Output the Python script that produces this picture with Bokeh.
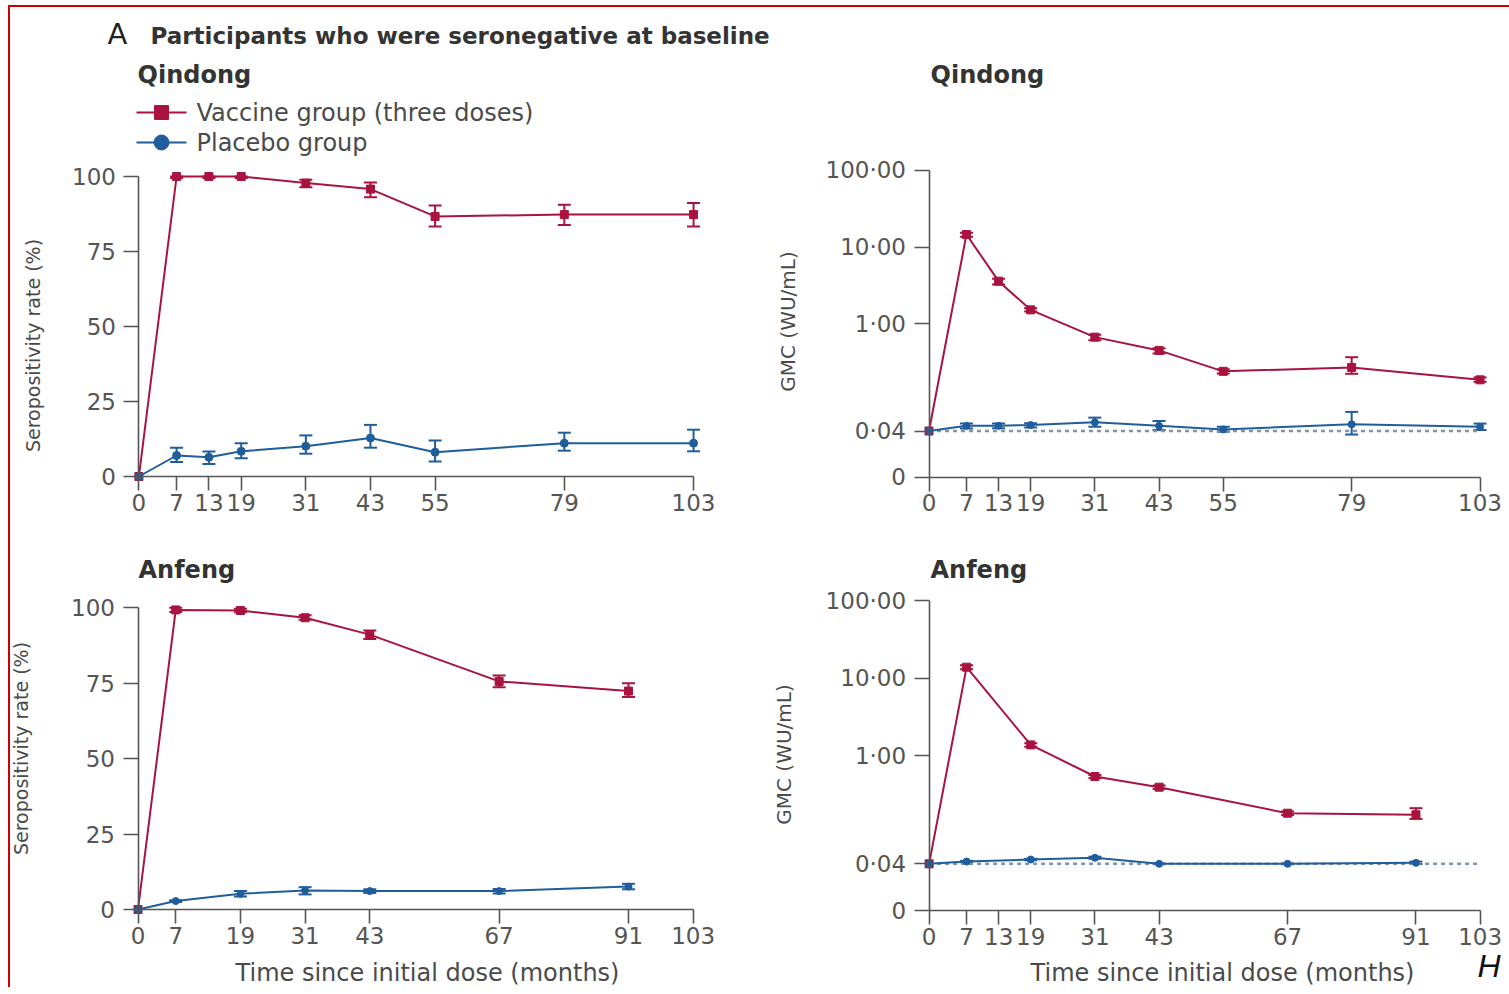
import math
from bokeh.plotting import figure
from bokeh.models import (Range1d, FixedTicker, Label, Whisker, TeeHead, ColumnDataSource,
                          CustomJSTickFormatter)
from bokeh.layouts import gridplot
from bokeh.embed import file_html
from bokeh.resources import INLINE

# ---------------- data ----------------
qd_months = [0, 7, 13, 19, 31, 43, 55, 79, 103]
an_months = [0, 7, 19, 31, 43, 67, 91]

# Qindong seropositivity rate (%)
qd_vac_sero = [0, 100, 100, 100, 97.8, 95.8, 86.7, 87.3, 87.3]
qd_vac_sero_lo = [0, 99.5, 99.5, 99.5, 96.4, 93.1, 83.3, 83.8, 83.3]
qd_vac_sero_hi = [0, 100, 100, 100, 98.9, 98.0, 90.3, 90.6, 91.2]
qd_pla_sero = [0, 7.0, 6.4, 8.4, 10.1, 12.8, 8.1, 11.1, 11.1]
qd_pla_sero_lo = [0, 4.8, 4.2, 6.1, 7.6, 9.6, 5.0, 8.6, 8.4]
qd_pla_sero_hi = [0, 9.6, 8.3, 11.1, 13.7, 17.2, 12.0, 14.6, 15.6]

# Qindong GMC (WU/mL)
qd_vac_gmc = [0.04, 14.6, 3.6, 1.52, 0.67, 0.45, 0.24, 0.27, 0.186]
qd_vac_gmc_lo = [0.04, 13.6, 3.25, 1.45, 0.61, 0.41, 0.225, 0.223, 0.175]
qd_vac_gmc_hi = [0.04, 15.4, 3.86, 1.60, 0.72, 0.48, 0.255, 0.367, 0.200]
qd_pla_gmc = [0.04, 0.0468, 0.0468, 0.0479, 0.0519, 0.0468, 0.0420, 0.0490, 0.0455]
qd_pla_gmc_lo = [0.04, 0.0432, 0.0435, 0.0445, 0.0455, 0.0412, 0.0392, 0.0360, 0.0412]
qd_pla_gmc_hi = [0.04, 0.0500, 0.0500, 0.0505, 0.0598, 0.0540, 0.0455, 0.0710, 0.0500]

# Anfeng seropositivity rate (%)
an_vac_sero = [0, 99.3, 99.1, 96.7, 91.1, 75.6, 72.4]
an_vac_sero_lo = [0, 98.6, 98.5, 96.0, 89.7, 73.7, 70.4]
an_vac_sero_hi = [0, 100, 99.7, 97.5, 92.5, 77.6, 75.0]
an_pla_sero = [0, 2.8, 5.2, 6.3, 6.1, 6.1, 7.6]
an_pla_sero_lo = [0, 2.5, 4.3, 5.0, 5.5, 5.3, 6.7]
an_pla_sero_hi = [0, 3.1, 6.1, 7.4, 6.7, 6.8, 8.5]

# Anfeng GMC (WU/mL)
an_vac_gmc = [0.04, 13.8, 1.37, 0.536, 0.39, 0.18, 0.172]
an_vac_gmc_lo = [0.04, 13.0, 1.30, 0.51, 0.37, 0.17, 0.152]
an_vac_gmc_hi = [0.04, 14.6, 1.44, 0.56, 0.41, 0.19, 0.209]
an_pla_gmc = [0.04, 0.0428, 0.0455, 0.0479, 0.0400, 0.0400, 0.0412]
an_pla_gmc_lo = [0.04, 0.0420, 0.0445, 0.0465, 0.0395, 0.0395, 0.0398]
an_pla_gmc_hi = [0.04, 0.0436, 0.0465, 0.0495, 0.0405, 0.0405, 0.0428]

lloq = 0.04

qd_xticks = [0, 7, 13, 19, 31, 43, 55, 79, 103]
an_sero_xticks = [0, 7, 19, 31, 43, 67, 91, 103]
an_gmc_xticks = [0, 7, 13, 19, 31, 43, 67, 91, 103]
sero_yticks = [0, 25, 50, 75, 100]
gmc_yticks = [0.01, 0.04, 1, 10, 100]
gmc_ytick_labels = ["0", "0·04", "1·00", "10·00", "100·00"]

series_labels = ["Vaccine group (three doses)", "Placebo group"]
panel_letter = "A"
panel_heading = "Participants who were seronegative at baseline"
sites = ["Qindong", "Anfeng"]
sero_ylabel = "Seropositivity rate (%)"
gmc_ylabel = "GMC (WU/mL)"
xlabel = "Time since initial dose (months)"
edge_text = "H"

# ---------------- style ----------------
FONT = "DejaVu Sans"
RED = "#a8133f"
BLUE = "#1f5d9c"
AX = "#555555"
TXT = "#4a4a4a"
HEAD = "#333333"
DOT = "#7f93ad"
TICK_SIZE = "23px"

ORIGIN_X, ORIGIN_Y = 10, 7   # page position of the grid's content (after margin + border)


def make_panel(W, H, ox, oy, x0px, xscale, ykind, yref, yscale, xticks, yticks, xmax):
    """Figure whose frame covers the whole canvas; screen px -> data via the given scales."""
    x_start = (ox - x0px) / xscale
    x_end = (ox + W - x0px) / xscale
    top = (yref - oy) / yscale
    bottom = (yref - (oy + H)) / yscale
    if ykind == "lin":
        yr = Range1d(bottom, top)
        yt = "linear"
    else:
        yr = Range1d(10 ** bottom, 10 ** top)
        yt = "log"
    p = figure(frame_width=W, frame_height=H, min_border=0, title=None,
               x_range=Range1d(x_start, x_end), y_range=yr, y_axis_type=yt,
               output_backend="svg", toolbar_location=None, tools="")
    p.outline_line_color = None
    p.grid.visible = False
    p.background_fill_color = "white"
    p.border_fill_color = "white"

    ylo = yticks[0]
    p.xaxis.fixed_location = ylo
    p.yaxis.fixed_location = 0
    p.xaxis.bounds = (0, xmax)
    p.yaxis.bounds = (ylo, yticks[-1])
    p.xaxis.ticker = FixedTicker(ticks=xticks, minor_ticks=[])
    p.yaxis.ticker = FixedTicker(ticks=yticks, minor_ticks=[])
    for ax in (p.xaxis[0], p.yaxis[0]):
        ax.axis_line_color = AX
        ax.axis_line_width = 1.6
        ax.major_tick_line_color = AX
        ax.major_tick_line_width = 1.6
        ax.minor_tick_line_color = None
        ax.major_tick_in = 0
        ax.major_label_text_font = FONT
        ax.major_label_text_font_size = TICK_SIZE
        ax.major_label_text_color = "#555555"
    p.xaxis.major_tick_out = 14
    p.yaxis.major_tick_out = 15
    p.xaxis.major_label_standoff = 3
    p.yaxis.major_label_standoff = 8

    def to_data(sx, sy):
        dx = (sx - x0px) / xscale
        v = (yref - sy) / yscale
        return dx, (v if ykind == "lin" else 10 ** v)

    return p, to_data


def add_text(p, to_data, sx, sy, text, size, style="normal", align="left", angle=0.0,
             color=TXT, font=FONT):
    x, y = to_data(sx, sy)
    p.add_layout(Label(x=x, y=y, text=text, text_font=font, text_font_size=size,
                       text_font_style=style, text_color=color, text_align=align,
                       text_baseline="middle", angle=angle))


def add_series(p, months, vals, lo, hi, color, marker, size):
    p.line(months, vals, line_color=color, line_width=2)
    src = ColumnDataSource(dict(x=months[1:], lo=lo[1:], hi=hi[1:]))
    p.add_layout(Whisker(source=src, base="x", lower="lo", upper="hi", dimension="height",
                         line_color=color, line_width=2,
                         upper_head=TeeHead(size=13, line_color=color, line_width=2),
                         lower_head=TeeHead(size=13, line_color=color, line_width=2)))
    p.scatter(months, vals, marker=marker, size=size, fill_color=color, line_color=color)


def add_legend_key(p, to_data, sx0, sx1, sy, color, marker, size, text):
    xa, ya = to_data(sx0, sy)
    xb, _ = to_data(sx1, sy)
    p.line([xa, xb], [ya, ya], line_color=color, line_width=2)
    p.scatter([(xa + xb) / 2], [ya], marker=marker, size=size, fill_color=color,
              line_color=color)
    add_text(p, to_data, sx1 + 10, sy, text, "24px")


def gmc_formatter():
    return CustomJSTickFormatter(args=dict(vals=gmc_yticks, labs=gmc_ytick_labels), code="""
        for (let i = 0; i < vals.length; i++) {
            if (Math.abs(tick - vals[i]) < 1e-6 * vals[i]) { return labs[i]; }
        }
        return '';
    """)


LW, RW = 760, 739
TH, BH = 530, 450
XL, XR = ORIGIN_X, ORIGIN_X + LW
YT, YB = ORIGIN_Y, ORIGIN_Y + TH

# ---------------- Top-left: Qindong seropositivity ----------------
p1, d1 = make_panel(LW, TH, XL, YT, 138.4, 5.385, "lin", 476.0, 3.0,
                    qd_xticks, sero_yticks, 103)
add_series(p1, qd_months, qd_vac_sero, qd_vac_sero_lo, qd_vac_sero_hi, RED, "square", 8)
add_series(p1, qd_months, qd_pla_sero, qd_pla_sero_lo, qd_pla_sero_hi, BLUE, "circle", 8)
add_text(p1, d1, 107, 33, panel_letter, "29px", color="#222222")
add_text(p1, d1, 150, 35, panel_heading, "23px", style="bold", color=HEAD)
add_text(p1, d1, 137, 74, sites[0], "24px", style="bold", color=HEAD)
add_text(p1, d1, 32, 345, sero_ylabel, "19px", align="center", angle=math.pi / 2)
add_legend_key(p1, d1, 136, 186, 112, RED, "square", 14, series_labels[0])
add_legend_key(p1, d1, 136, 186, 142, BLUE, "circle", 15, series_labels[1])

# ---------------- Top-right: Qindong GMC ----------------
p2, d2 = make_panel(RW, TH, XR, YT, 928.5, 5.35, "log", 323.3, 76.7,
                    qd_xticks, gmc_yticks, 103)
p2.yaxis.formatter = gmc_formatter()
p2.line([0, 103], [lloq, lloq], line_color=DOT, line_width=2.5, line_dash="4 4")
add_series(p2, qd_months, qd_vac_gmc, qd_vac_gmc_lo, qd_vac_gmc_hi, RED, "square", 8)
add_series(p2, qd_months, qd_pla_gmc, qd_pla_gmc_lo, qd_pla_gmc_hi, BLUE, "circle", 7)
add_text(p2, d2, 930, 74, sites[0], "24px", style="bold", color=HEAD)
add_text(p2, d2, 787, 321, gmc_ylabel, "20px", align="center", angle=math.pi / 2)

# ---------------- Bottom-left: Anfeng seropositivity ----------------
p3, d3 = make_panel(LW, BH, XL, YB, 137.5, 5.39, "lin", 909.0, 3.017,
                    an_sero_xticks, sero_yticks, 103)
add_series(p3, an_months, an_vac_sero, an_vac_sero_lo, an_vac_sero_hi, RED, "square", 8)
add_series(p3, an_months, an_pla_sero, an_pla_sero_lo, an_pla_sero_hi, BLUE, "circle", 7)
add_text(p3, d3, 138, 569, sites[1], "24px", style="bold", color=HEAD)
add_text(p3, d3, 20, 748, sero_ylabel, "19px", align="center", angle=math.pi / 2)
add_text(p3, d3, 427, 972, xlabel, "24px", align="center")

# ---------------- Bottom-right: Anfeng GMC ----------------
p4, d4 = make_panel(RW, BH, XR, YB, 928.6, 5.35, "log", 755.0, 77.5,
                    an_gmc_xticks, gmc_yticks, 103)
p4.yaxis.formatter = gmc_formatter()
p4.line([0, 103], [lloq, lloq], line_color=DOT, line_width=2.5, line_dash="4 4")
add_series(p4, an_months, an_vac_gmc, an_vac_gmc_lo, an_vac_gmc_hi, RED, "square", 8)
add_series(p4, an_months, an_pla_gmc, an_pla_gmc_lo, an_pla_gmc_hi, BLUE, "circle", 7)
add_text(p4, d4, 930, 569, sites[1], "24px", style="bold", color=HEAD)
add_text(p4, d4, 783, 754, gmc_ylabel, "20px", align="center", angle=math.pi / 2)
add_text(p4, d4, 1222, 972, xlabel, "24px", align="center")
add_text(p4, d4, 1477, 965, edge_text, "32px", style="italic", color="#111111",
         font="Liberation Sans")

grid = gridplot([[p1, p2], [p3, p4]], toolbar_location=None)
grid.styles = {"margin-left": "8px", "margin-top": "5px",
               "border-left": "2px solid #cc0000", "border-top": "2px solid #cc0000"}

open("out.html", "w").write(file_html(grid, INLINE))
